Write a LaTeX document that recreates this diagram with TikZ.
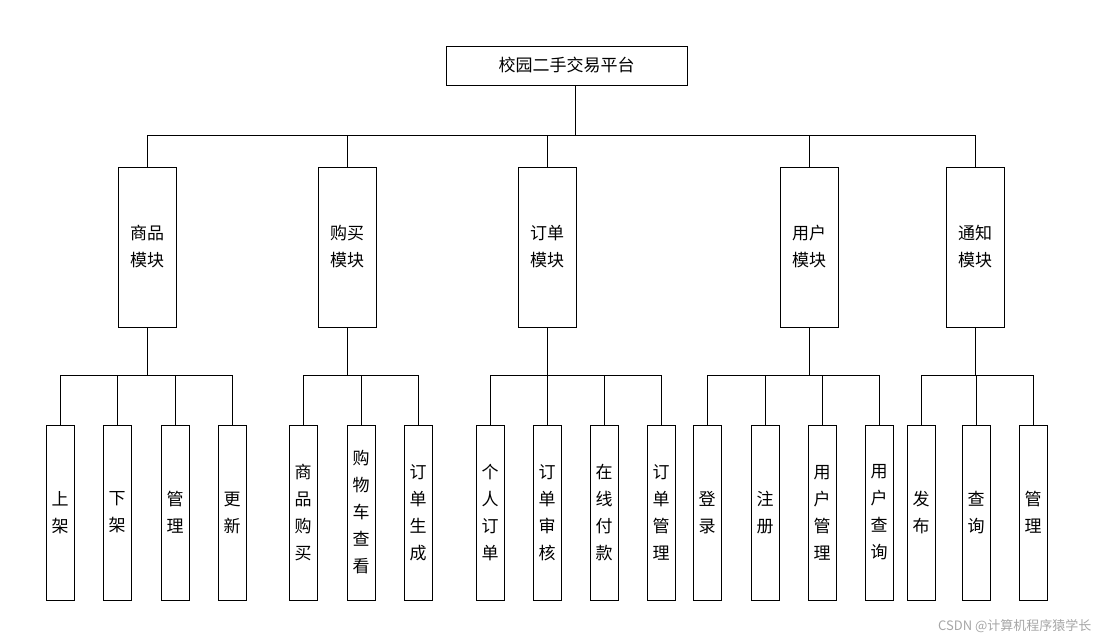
\documentclass[tikz,border=0pt]{standalone}
\usepackage{fontspec}
\setmainfont{Noto Sans CJK SC}
\begin{document}
\begin{tikzpicture}[x=1pt,y=-1pt,
  bx/.style={draw,line width=0.8pt,inner sep=0pt,align=center,font=\fontsize{17}{27}\selectfont},
  ln/.style={line width=0.8pt}]
\useasboundingbox (0,0) rectangle (1099,642);
\node[bx,minimum width=241,minimum height=39] (root) at (566.5,65.5) {校园二手交易平台};
\coordinate (bus) at (575,135);
\draw[ln] (575,85.5) -- (bus);
\draw[ln] (147,135) -- (975,135);
\foreach \n/\x/\t in {m1/147/商品\\模块, m2/347/购买\\模块, m3/547/订单\\模块, m4/809/用户\\模块, m5/975/通知\\模块}{
  \node[bx,minimum width=58,minimum height=160] (\n) at (\x,247) {\t};
  \draw[ln] (\x,135) -- (\n.north);
  \draw[ln] (\n.south) -- (\x,375);
}
\draw[ln] (60,375) -- (232,375);
\draw[ln] (303,375) -- (418,375);
\draw[ln] (490,375) -- (661,375);
\draw[ln] (707,375) -- (879,375);
\draw[ln] (921,375) -- (1033,375);
\foreach \n/\x/\t in {a1/60/上\\架, a2/117/下\\架, a3/175/管\\理, a4/232/更\\新,
  b1/303/商\\品\\购\\买, b2/361/购\\物\\车\\查\\看, b3/418/订\\单\\生\\成,
  c1/490/个\\人\\订\\单, c2/547/订\\单\\审\\核, c3/604/在\\线\\付\\款, c4/661/订\\单\\管\\理,
  d1/707/登\\录, d2/765/注\\册, d3/822/用\\户\\管\\理, d4/879/用\\户\\查\\询,
  e1/921/发\\布, e2/976/查\\询, e3/1033/管\\理}{
  \node[bx,minimum width=28,minimum height=175] (\n) at (\x,512.5) {\t};
  \draw[ln] (\x,375) -- (\n.north);
}
\node[text=gray!70,font=\fontsize{13}{15}\selectfont,anchor=east] (wm) at (1095,626) {CSDN @计算机程序猿学长};
\end{tikzpicture}
\end{document}
